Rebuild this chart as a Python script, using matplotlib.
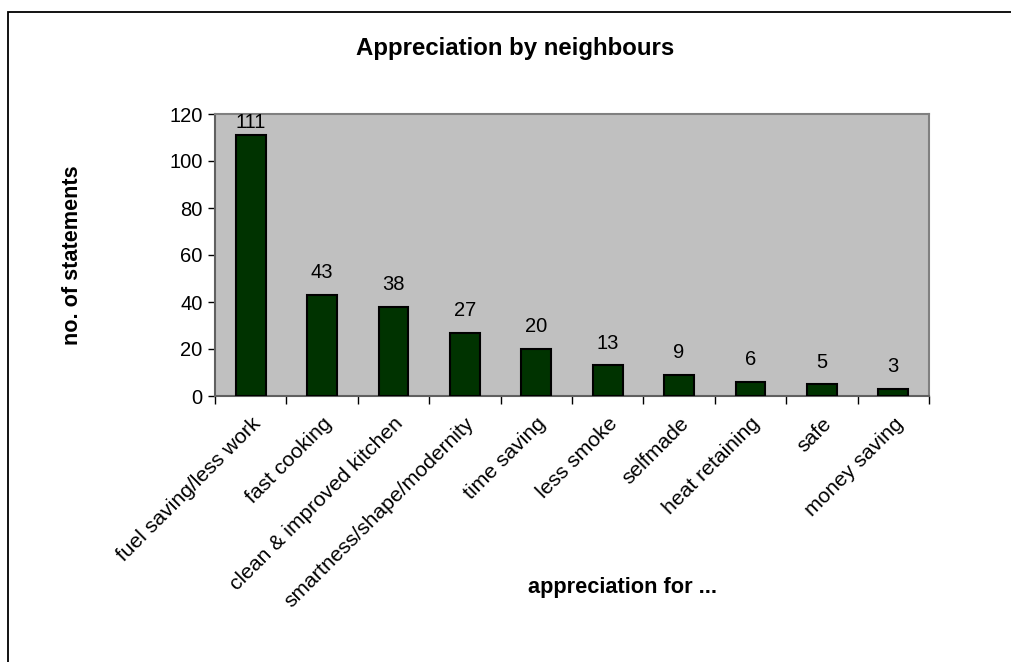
import matplotlib
matplotlib.use("Agg")
import matplotlib.pyplot as plt
from matplotlib.patches import Rectangle

plt.rcParams['font.family'] = ['Liberation Sans', 'DejaVu Sans']

categories = ["fuel saving/less work", "fast cooking", "clean & improved kitchen",
              "smartness/shape/modernity", "time saving", "less smoke", "selfmade",
              "heat retaining", "safe", "money saving"]
counts = [111, 43, 38, 27, 20, 13, 9, 6, 5, 3]
y_ticks = [0, 20, 40, 60, 80, 100, 120]

W, H = 1011, 662
fig = plt.figure(figsize=(W / 100, H / 100), dpi=100)
fig.patch.set_facecolor("white")

# outer chart frame (left and top edges visible)
fig.add_artist(Rectangle((8 / W, -0.1), 1.2, (H - 12) / H + 0.1, transform=fig.transFigure,
                         fill=False, edgecolor="black", linewidth=1.3))

left, right, top, bottom = 215, 929, 114, 396
ax = fig.add_axes([left / W, 1 - bottom / H, (right - left) / W, (bottom - top) / H])
ax.set_facecolor("#C0C0C0")
for s in ax.spines.values():
    s.set_color("#808080")
    s.set_linewidth(1.5)
ax.spines['left'].set_color("#606060")
ax.spines['bottom'].set_color("#606060")

ymax = y_ticks[-1]
x = list(range(len(categories)))
ax.bar(x, counts, width=0.42, color="#003300", edgecolor="black", linewidth=1.5, zorder=3)
for xi, v in zip(x, counts):
    if v > ymax * 0.85:
        # keep the label inside the plot area
        ax.annotate(str(v), (xi, ymax), xytext=(0, 1), textcoords="offset points",
                    ha="center", va="top", fontsize=14.5, color="black")
    else:
        ax.annotate(str(v), (xi, v), xytext=(0, 9), textcoords="offset points",
                    ha="center", va="bottom", fontsize=14.5, color="black")

ax.set_xlim(-0.5, len(categories) - 0.5)
ax.set_ylim(0, ymax)
ax.set_yticks(y_ticks)
ax.set_yticklabels([str(t) for t in y_ticks], fontsize=14.5)
ax.tick_params(axis='y', direction='out', length=5, width=1, color="black", pad=4)

# category labels between boundary ticks
ax.set_xticks(x)
ax.set_xticklabels(categories, rotation=45, ha="right", rotation_mode="anchor", fontsize=15.2)
ax.tick_params(axis='x', length=0, pad=13)
ax.set_xticks([i - 0.5 for i in range(len(categories) + 1)], minor=True)
ax.tick_params(axis='x', which='minor', direction='out', length=6, width=1, color="black")

fig.text(515 / W, 1 - 48 / H, "Appreciation by neighbours", ha="center", va="center",
         fontsize=17.3, fontweight="bold")
fig.text(73 / W, 1 - 255 / H, "no. of statements", ha="center", va="center",
         rotation=90, fontsize=15.6, fontweight="bold")
fig.text(623 / W, 1 - 587 / H, "appreciation for ...", ha="center", va="center",
         fontsize=15.7, fontweight="bold")

fig.savefig("out.png", dpi=100)
